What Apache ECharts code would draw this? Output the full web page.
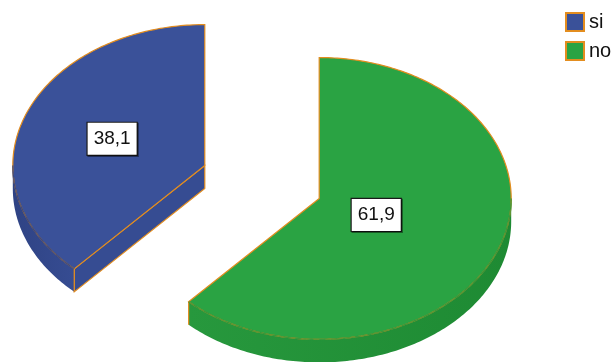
<!DOCTYPE html>
<html>
<head>
<meta charset="utf-8">
<script src="https://cdn.jsdelivr.net/npm/echarts@6/dist/echarts.min.js"></script>
<style>html,body{margin:0;padding:0;background:#fff}#c{width:614px;height:362px}</style>
</head>
<body>
<div id="c"></div>
<script>
const categories = ['si', 'no'];
const values = [38.1, 61.9];
const topColors = ['#3a5199', '#2aa343'];
const sideColors = [['#2f4384', '#364c92'], ['#27983d', '#1e8a33']];
const ORANGE = '#e38d1f';
const K = 0.734;      // vertical squash (tilt)
const DEPTH = 23;     // extrusion depth in px
const EXPLODE = 0.32; // fraction of radius

const total = values.reduce((a, b) => a + b, 0);

function renderSlice(params, api) {
  const i = params.seriesIndex;
  let start = 0;
  for (let j = 0; j < i; j++) start += values[j];
  const end = start + api.value(1);
  const mid = (start + end) / 2;
  const c = api.coord([0, 0]);
  const m = api.coord([EXPLODE, mid]);
  const off = [m[0] - c[0], (m[1] - c[1]) * K];
  function P(r, v, dy) {
    const p = api.coord([r, v]);
    return [p[0] + off[0], c[1] + (p[1] - c[1]) * K + off[1] + (dy || 0)];
  }
  function arc(a, b, dy) {
    const pts = [];
    const n = Math.max(2, Math.ceil(Math.abs(b - a) / 0.25));
    for (let s = 0; s <= n; s++) pts.push(P(1, a + (b - a) * s / n, dy));
    return pts;
  }
  const children = [];
  const cc = P(0, 0);
  // radial walls
  [[start, 1], [end, -1]].forEach(([v, dir]) => {
    const rim = P(1, v);
    const q = P(0.5, v + dir * 1);
    const d = [rim[0] - cc[0], rim[1] - cc[1]];
    let n = [-d[1], d[0]];
    if (n[0] * (q[0] - cc[0]) + n[1] * (q[1] - cc[1]) > 0) n = [-n[0], -n[1]];
    const len = Math.hypot(n[0], n[1]);
    if (n[1] / len > 0.05) {
      children.push({
        type: 'polygon',
        shape: { points: [cc, rim, [rim[0], rim[1] + DEPTH], [cc[0], cc[1] + DEPTH]] },
        style: { fill: sideColors[i][1], stroke: ORANGE, lineWidth: 1.2 }
      });
    }
  });
  // outer side band (front half only)
  const lo = Math.max(start, 25), hi = Math.min(end, 75);
  if (lo < hi) {
    const topPts = arc(lo, hi, 0);
    const botPts = arc(hi, lo, DEPTH);
    children.push({
      type: 'polygon',
      shape: { points: topPts.concat(botPts) },
      style: {
        fill: new echarts.graphic.LinearGradient(0, 0, 1, 0, [
          { offset: 0, color: sideColors[i][0] },
          { offset: 1, color: sideColors[i][1] }
        ])
      }
    });
    [lo, hi].forEach(v => {
      if (Math.abs(v - start) < 1e-6 || Math.abs(v - end) < 1e-6) {
        const a = P(1, v);
        children.push({
          type: 'line',
          shape: { x1: a[0], y1: a[1], x2: a[0], y2: a[1] + DEPTH },
          style: { stroke: ORANGE, lineWidth: 1.2 }
        });
      }
    });
  }
  // top face
  const facePts = [cc].concat(arc(start, end, 0));
  children.push({
    type: 'polygon',
    shape: { points: facePts },
    style: { fill: topColors[i], stroke: ORANGE, lineWidth: 1.2 }
  });
  if (lo < hi) {
    children.push({
      type: 'polyline',
      shape: { points: arc(lo, hi, 0) },
      style: { stroke: sideColors[i][0], lineWidth: 1.4, opacity: 0.9, fill: null }
    });
    children.push({
      type: 'polyline',
      shape: { points: arc(lo, hi, 0) },
      style: { stroke: ORANGE, lineWidth: 0.8, opacity: 0.35, lineDash: [6, 6], fill: null }
    });
  }
  // label at sector centroid
  const alpha = (end - start) / total * Math.PI;
  const ratio = (2 / 3) * Math.sin(alpha) / alpha;
  const lp = P(ratio, mid);
  children.push({
    type: 'text',
    x: lp[0], y: lp[1],
    style: {
      text: String(api.value(1)).replace('.', ','),
      fill: '#111',
      font: '19px "Liberation Sans", Arial, sans-serif',
      align: 'center', verticalAlign: 'middle',
      backgroundColor: '#fff', borderColor: '#1a1a1a', borderWidth: 1.2,
      padding: [7, 6, 6, 6],
      shadowColor: 'rgba(0,0,0,0.45)', shadowOffsetX: 1, shadowOffsetY: 1, shadowBlur: 0
    }
  });
  return { type: 'group', children };
}

const chart = echarts.init(document.getElementById('c'), null, { renderer: 'canvas' });
chart.setOption({
  animation: false,
  legend: {
    orient: 'vertical',
    left: 560, top: 7,
    icon: 'rect',
    itemWidth: 18, itemHeight: 18, itemGap: 9,
    textStyle: { fontSize: 20, fontFamily: '"Liberation Sans", Arial, sans-serif', color: '#111', lineHeight: 18 },
    data: categories.map((name, i) => ({
      name, itemStyle: { color: topColors[i], borderColor: ORANGE, borderWidth: 2 }
    }))
  },
  polar: { center: [262, 182], radius: 192 },
  angleAxis: { type: 'value', min: 0, max: 100, startAngle: 90, clockwise: false, show: false },
  radiusAxis: { type: 'value', min: 0, max: 1, show: false },
  series: categories.map((name, i) => ({
    type: 'custom',
    name,
    coordinateSystem: 'polar',
    clip: false,
    itemStyle: { color: topColors[i], borderColor: ORANGE, borderWidth: 2 },
    data: [{ name, value: [1, values[i]] }],
    renderItem: renderSlice
  }))
});
</script>
</body>
</html>
